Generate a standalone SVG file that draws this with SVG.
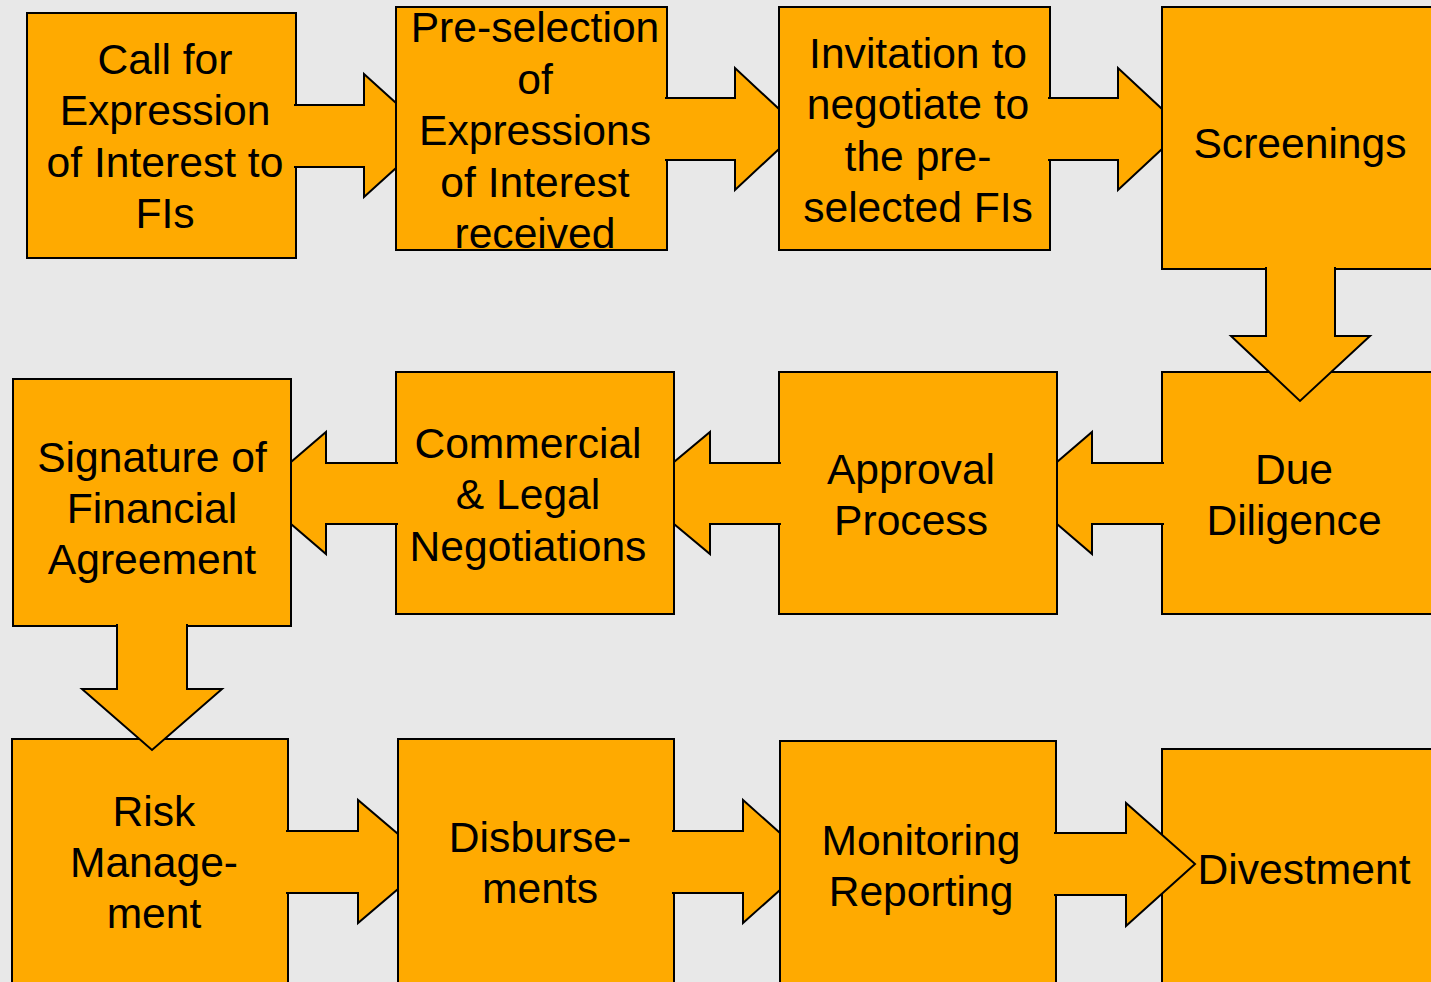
<svg xmlns="http://www.w3.org/2000/svg" width="1431" height="982" viewBox="0 0 1431 982">
  <style>
    .box { fill: #FFAA00; stroke: #000; stroke-width: 2; }
    .arrow { fill: #FFAA00; stroke: #000; stroke-width: 2; stroke-linejoin: miter; }
    text { font-family: "Liberation Sans", Arial, sans-serif; font-size: 42.6px; fill: #000; text-anchor: middle; }
  </style>
  <rect x="0" y="0" width="1431" height="982" fill="#E8E8E8"/>

  <!-- Row 1 -->
  <g id="call-for-eoi">
    <rect class="box" x="27" y="13" width="269" height="245"/>
    <text x="165" y="74">Call for</text>
    <text x="165" y="125">Expression</text>
    <text x="165" y="177">of Interest to</text>
    <text x="165" y="228">FIs</text>
  </g>
  <g id="pre-selection">
    <rect class="box" x="396" y="7" width="271" height="243"/>
    <text x="535" y="42">Pre-selection</text>
    <text x="535" y="94">of</text>
    <text x="535" y="145">Expressions</text>
    <text x="535" y="197">of Interest</text>
    <text x="535" y="248">received</text>
  </g>
  <g id="invitation">
    <rect class="box" x="779" y="7" width="271" height="243"/>
    <text x="918" y="68">Invitation to</text>
    <text x="918" y="119">negotiate to</text>
    <text x="918" y="171">the pre-</text>
    <text x="918" y="222">selected FIs</text>
  </g>
  <g id="screenings">
    <rect class="box" x="1162" y="7" width="280" height="262"/>
    <text x="1300" y="158">Screenings</text>
  </g>

  <!-- Row 2 -->
  <g id="signature">
    <rect class="box" x="13" y="379" width="278" height="247"/>
    <text x="152" y="472">Signature of</text>
    <text x="152" y="523">Financial</text>
    <text x="152" y="574">Agreement</text>
  </g>
  <g id="negotiations">
    <rect class="box" x="396" y="372" width="278" height="242"/>
    <text x="528" y="458">Commercial</text>
    <text x="528" y="509">&amp; Legal</text>
    <text x="528" y="561">Negotiations</text>
  </g>
  <g id="approval">
    <rect class="box" x="779" y="372" width="278" height="242"/>
    <text x="911" y="484">Approval</text>
    <text x="911" y="535">Process</text>
  </g>
  <g id="due-diligence">
    <rect class="box" x="1162" y="372" width="280" height="242"/>
    <text x="1294" y="484">Due</text>
    <text x="1294" y="535">Diligence</text>
  </g>

  <!-- Row 3 -->
  <g id="risk-management">
    <rect class="box" x="12" y="739" width="276" height="260"/>
    <text x="154" y="826">Risk</text>
    <text x="154" y="877">Manage-</text>
    <text x="154" y="928">ment</text>
  </g>
  <g id="disbursements">
    <rect class="box" x="398" y="739" width="276" height="260"/>
    <text x="540" y="852">Disburse-</text>
    <text x="540" y="903">ments</text>
  </g>
  <g id="monitoring">
    <rect class="box" x="780" y="741" width="276" height="260"/>
    <text x="921" y="855">Monitoring</text>
    <text x="921" y="906">Reporting</text>
  </g>
  <g id="divestment">
    <rect class="box" x="1162" y="749" width="280" height="260"/>
    <text x="1304" y="884">Divestment</text>
  </g>

  <!-- Block arrows between the steps -->
  <g id="connectors">
    <path class="arrow" d="M294,105 H364 V74 L396,103 V168 L364,197 V167 H294"/>
    <path class="arrow" d="M665,98 H735 V68 L779,109 V149 L735,190 V160 H665"/>
    <path class="arrow" d="M1048,98 H1118 V68 L1162,109 V149 L1118,190 V160 H1048"/>
    <path class="arrow" d="M1266,267 V336 H1231 L1300,401 L1370,336 H1335 V267"/>
    <path class="arrow" d="M1164,463 H1092 V432 L1057,462 V524 L1092,554 V524 H1164"/>
    <path class="arrow" d="M781,463 H710 V432 L674,462 V524 L710,554 V524 H781"/>
    <path class="arrow" d="M398,463 H326 V432 L291,462 V524 L326,554 V524 H398"/>
    <path class="arrow" d="M117,624 V689 H82 L152,750 L222,689 H187 V624"/>
    <path class="arrow" d="M286,831 H358 V800 L398,834 V889 L358,923 V893 H286"/>
    <path class="arrow" d="M672,831 H743 V800 L780,833 V890 L743,923 V893 H672"/>
    <path class="arrow" d="M1054,833 H1126 V803 L1195,864 L1126,926 V895 H1054"/>
  </g>
</svg>
